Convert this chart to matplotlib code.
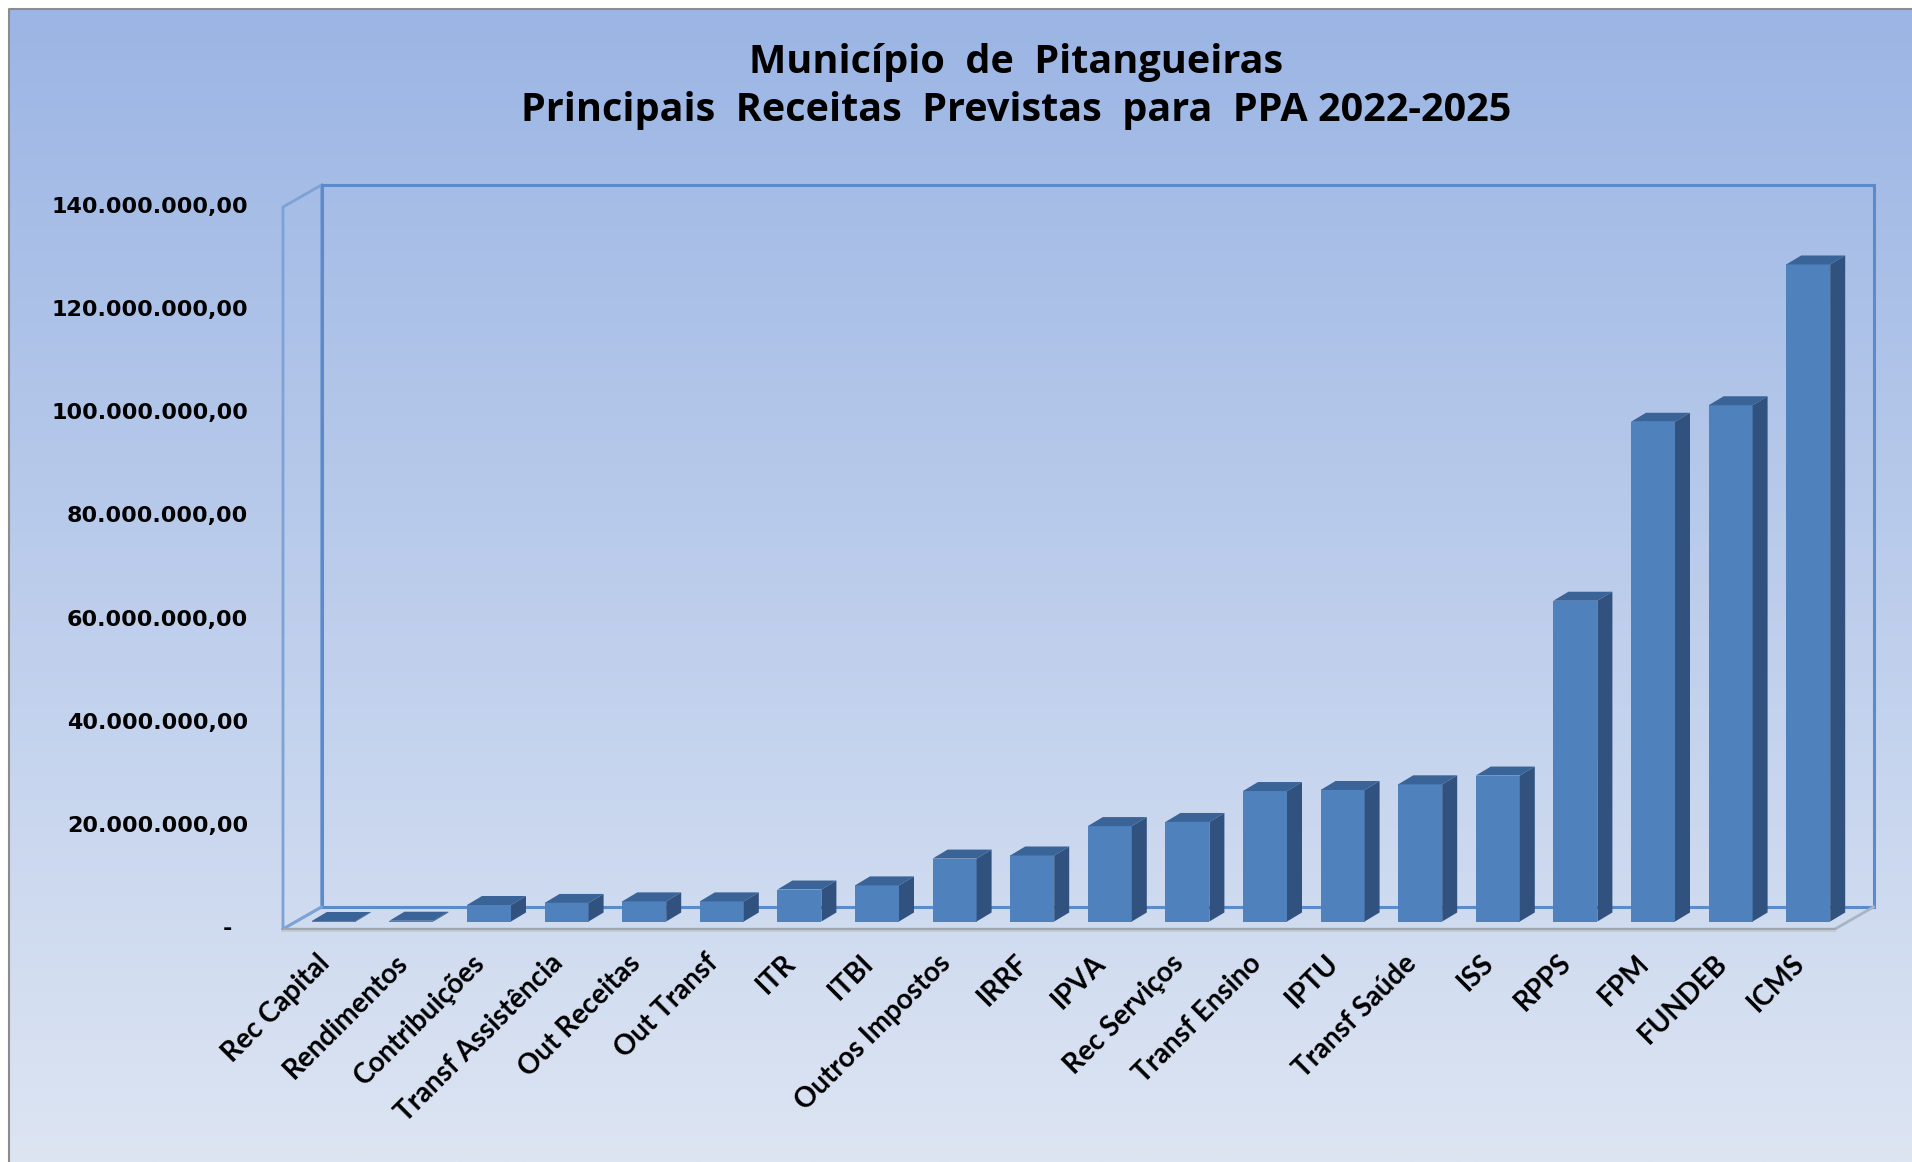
import numpy as np
import matplotlib
matplotlib.use("Agg")
import matplotlib.pyplot as plt
from matplotlib.patches import Polygon, Rectangle

# ---------------- data ----------------
categories = ["Rec Capital", "Rendimentos", "Contribuições", "Transf Assistência",
              "Out Receitas", "Out Transf", "ITR", "ITBI", "Outros Impostos", "IRRF",
              "IPVA", "Rec Serviços", "Transf Ensino", "IPTU", "Transf Saúde", "ISS",
              "RPPS", "FPM", "FUNDEB", "ICMS"]
values = [0.10e6, 0.15e6, 3.2e6, 3.6e6, 3.9e6, 3.9e6, 6.2e6, 7.0e6, 12.2e6, 12.8e6,
          18.5e6, 19.3e6, 25.3e6, 25.5e6, 26.6e6, 28.3e6, 62.2e6, 96.9e6, 100.1e6, 127.4e6]
ytick_values = [0, 20e6, 40e6, 60e6, 80e6, 100e6, 120e6, 140e6]
ytick_labels = ["-  ", "20.000.000,00", "40.000.000,00", "60.000.000,00",
                "80.000.000,00", "100.000.000,00", "120.000.000,00", "140.000.000,00"]
title_lines = ["Município  de  Pitangueiras",
               "Principais  Receitas  Previstas  para  PPA 2022-2025"]

# ---------------- layout (pixels) ----------------
W, H = 1912, 1162
X0_PX = 283.0        # front-left corner of floor
CAT_PX = 77.6        # width of a category slot
Y0_PX = 929.0        # value 0 on the front plane (from top)
VMAX = 140e6
VAL_PX = 722.0       # pixels for VMAX
VPP = VMAX / VAL_PX  # value per pixel

def dxu(px):
    return px / CAT_PX

def dyu(px):
    return px * VPP

fig = plt.figure(figsize=(W / 100, H / 100), dpi=100)
fig.patch.set_facecolor("white")

# background gradient
bg = fig.add_axes([0, 0, 1, 1])
bg.set_xlim(0, W)
bg.set_ylim(H, 0)
bg.axis("off")
top_c = np.array([155, 181, 228]) / 255
bot_c = np.array([221, 229, 243]) / 255
t = np.linspace(0, 1, 256)[:, None, None]
grad = top_c * (1 - t) + bot_c * t
grad = np.repeat(grad, 2, axis=1)
bg.imshow(grad, extent=[10, W, H, 8], aspect="auto", zorder=0, interpolation="bilinear")
bg.plot([9.5, 9.5, W], [H, 8.5, 8.5], color="#8c8c8c", lw=1.5, zorder=1)

# main axes (category / value coordinates)
ax = fig.add_axes([0, 0, 1, 1])
ax.patch.set_alpha(0)
ax.axis("off")
ax.set_xlim(-X0_PX / CAT_PX, (W - X0_PX) / CAT_PX)
ax.set_ylim(-(H - Y0_PX) * VPP, Y0_PX * VPP)

n = len(categories)
wdx, wdy = dxu(38.5), dyu(22)      # wall depth
wall_col = "#5b8bcb"

# left wall
ax.add_patch(Polygon([(0, 0), (0, VMAX), (wdx, VMAX + wdy), (wdx, wdy)],
                     closed=True, facecolor="none", edgecolor="#7da2d6",
                     lw=2.0, zorder=2))
# back wall
ax.add_patch(Rectangle((wdx, wdy), n, VMAX, facecolor="none",
                       edgecolor=wall_col, lw=2.2, zorder=2))
# floor edges
ax.plot([n, n + wdx], [0, wdy], color="#a8b4c4", lw=2.0, zorder=3)
ax.plot([0, wdx], [0, wdy], color="#7da2d6", lw=2.0, zorder=3)
ax.plot([0, n], [0, 0], color="#a0a6ae", lw=2.4, zorder=3, solid_capstyle="butt")
ax.plot([0, n], [dyu(-1.8), dyu(-1.8)], color="#c4cad3", lw=1.5, zorder=3)

# bars
bfx, bfy = dxu(12), dyu(7.5)       # bar front plane offset
bw = dxu(44)                       # bar width
bdx, bdy = dxu(15), dyu(9)         # bar depth
front_c, side_c, top_c2 = "#4f81bd", "#31527f", "#3a6397"
for i, v in enumerate(values):
    cx = i + 0.5 + bfx
    x0, x1 = cx - bw / 2, cx + bw / 2
    y0, y1 = bfy, bfy + v
    ax.add_patch(Polygon([(x0, y0), (x1, y0), (x1, y1), (x0, y1)], closed=True,
                         facecolor=front_c, edgecolor="none", zorder=5))
    ax.add_patch(Polygon([(x1, y0), (x1 + bdx, y0 + bdy), (x1 + bdx, y1 + bdy), (x1, y1)],
                         closed=True, facecolor=side_c, edgecolor="none", zorder=5))
    ax.add_patch(Polygon([(x0, y1), (x1, y1), (x1 + bdx, y1 + bdy), (x0 + bdx, y1 + bdy)],
                         closed=True, facecolor=top_c2, edgecolor="none", zorder=5))

# y labels
for v, lab in zip(ytick_values, ytick_labels):
    ax.text(dxu(248 - X0_PX), v, lab, ha="right", va="center",
            fontsize=16, fontweight="bold", family="DejaVu Sans", color="black", zorder=6)

# category labels
for i, lab in enumerate(categories):
    ax.text(i + 0.5 + dxu(4), dyu(-30), lab, rotation=45, rotation_mode="anchor",
            ha="right", va="center", fontsize=20, fontweight="bold",
            family="Lato", color="black", zorder=6)

# title
fig.text(1016 / W, 1 - 62 / H, title_lines[0], ha="center", va="center",
         fontsize=28.5, fontweight="bold", family="Open Sans", color="black")
fig.text(1016 / W, 1 - 111 / H, title_lines[1], ha="center", va="center",
         fontsize=28.5, fontweight="bold", family="Open Sans", color="black")

fig.savefig("out.png", dpi=100)
